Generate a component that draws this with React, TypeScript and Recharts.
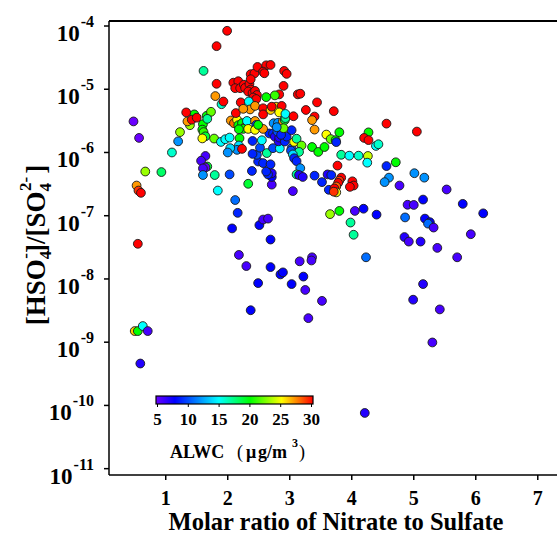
import { ScatterChart, Scatter, XAxis, YAxis, ReferenceLine } from "recharts";

// [molar ratio NO3/SO4, [HSO4-]/[SO4 2-], ALWC (µg/m3)]
type Pt = [number, number, number];

const LOW_RATIO: Pt[] = [
  [0.48, 3.1e-6, 5], [0.57, 1.7e-6, 5], [0.67, 5.0e-7, 23], [0.93, 4.9e-7, 18],
  [1.1, 1.0e-6, 16], [1.2, 1.5e-6, 12], [1.23, 2.1e-6, 23], [0.53, 3.0e-7, 27],
  [0.56, 2.5e-7, 29], [0.6, 2.3e-7, 30], [0.55, 3.6e-8, 30], [0.5, 1.5e-9, 26],
  [0.55, 1.5e-9, 20], [0.63, 1.8e-9, 15], [0.71, 1.5e-9, 6], [0.59, 4.6e-10, 7],
];

const LOW_TAIL: Pt[] = [
  [1.64, 8.8e-7, 6], [1.57, 7.4e-7, 6], [1.67, 6.0e-7, 19], [1.64, 5.8e-7, 5],
  [1.6, 5.6e-7, 6], [1.6, 4.4e-7, 12], [1.79, 4.4e-7, 17], [2.03, 4.5e-7, 10],
  [1.84, 2.5e-7, 15], [2.12, 1.77e-7, 11], [2.16, 1.11e-7, 9], [2.07, 6.3e-8, 8],
  [2.51, 7.1e-8, 8], [2.57, 8.7e-8, 6], [2.65, 9.0e-8, 6], [2.69, 4.2e-8, 8],
  [2.18, 2.4e-8, 6], [2.3, 1.6e-8, 6], [2.69, 1.54e-8, 8], [2.85, 1.18e-8, 8],
  [2.89, 1.27e-8, 8], [2.49, 8.6e-9, 8], [3.03, 8.3e-9, 8], [3.22, 1.09e-8, 8],
  [3.16, 1.9e-8, 6], [3.36, 2.2e-8, 6], [3.35, 1.96e-8, 6], [3.25, 6.7e-9, 6],
  [2.37, 3.2e-9, 8], [3.3, 2.4e-9, 6], [3.52, 4.5e-9, 6],
];

const CENTRAL: Pt[] = [
  [2.33, 3.2e-7, 19], [3.05, 2.45e-7, 6], [2.71, 3.1e-7, 6], [2.71, 4.1e-7, 8],
  [2.71, 4.7e-7, 7], [2.65, 4.5e-7, 9], [2.62, 5.0e-7, 9], [2.39, 5.1e-7, 9],
  [2.49, 7.2e-7, 9], [2.47, 9.2e-7, 10], [2.4, 9.5e-7, 9], [2.57, 6.8e-7, 9],
  [2.69, 6.5e-7, 9], [2.63, 9.8e-7, 17], [2.52, 1.19e-6, 10], [2.4, 1.52e-6, 9],
  [2.55, 1.56e-6, 15], [2.67, 2.0e-6, 9], [2.73, 2.0e-6, 9], [2.76, 1.78e-6, 7],
  [2.73, 1.17e-6, 10], [2.84, 1.16e-6, 15], [2.82, 1.5e-6, 7], [2.83, 1.72e-6, 7],
  [2.92, 1.49e-6, 9], [2.95, 1.78e-6, 9], [3.03, 2.25e-6, 9], [3.03, 1.17e-6, 10],
  [3.02, 1.07e-6, 10], [3.07, 1.47e-6, 25], [3.11, 1.65e-6, 17], [3.19, 1.29e-6, 22],
  [3.15, 1.02e-6, 17], [3.05, 9.3e-7, 14], [3.07, 8.1e-7, 9], [3.11, 7.3e-7, 9],
  [3.17, 5.65e-7, 12], [3.11, 4.5e-7, 17], [3.15, 4.4e-7, 7], [3.21, 4.1e-7, 7],
  [2.8, 2.14e-6, 10], [2.86, 1.9e-6, 9], [3.4, 4.3e-7, 9], [3.52, 3.4e-7, 9],
  [3.61, 4.5e-7, 7], [3.67, 4.4e-7, 9], [3.63, 2.57e-7, 9],
];

const MID_BAND: Pt[] = [
  [1.46, 4.0e-6, 20], [1.39, 2.7e-6, 23], [1.6, 2.8e-6, 20], [1.59, 2.3e-6, 20],
  [1.61, 2.1e-6, 21], [1.64, 1.8e-6, 19], [1.66, 3.8e-6, 20], [1.73, 4.4e-6, 22],
  [1.67, 3.4e-6, 17], [1.59, 1.67e-6, 25], [1.78, 1.66e-6, 22], [1.89, 1.47e-6, 15],
  [1.96, 1.62e-6, 15], [2.03, 1.72e-6, 15], [1.61, 1.95e-5, 17], [1.9, 5.8e-6, 16],
  [2.05, 3.2e-6, 27], [2.1, 2.9e-6, 28], [2.15, 3.3e-6, 25], [2.17, 2.7e-6, 20],
  [2.23, 2.9e-6, 20], [2.28, 2.56e-6, 23], [2.25, 2.36e-6, 20], [2.31, 3.15e-6, 15],
  [2.33, 2.36e-6, 25], [2.44, 3.15e-6, 27], [2.46, 2.73e-6, 10], [2.44, 2.28e-6, 25],
  [2.57, 2.36e-6, 27], [2.49, 2.73e-6, 20], [2.18, 2.33e-6, 20], [2.19, 1.68e-6, 20],
  [2.18, 1.29e-6, 14], [2.15, 1.1e-6, 12], [2.04, 1.17e-6, 14], [2.0, 1.0e-6, 12],
  [2.23, 1.14e-6, 30], [2.78, 2.8e-6, 27], [2.74, 2.9e-6, 12], [2.81, 2.95e-6, 12],
  [2.89, 3.1e-6, 27], [2.92, 3.25e-6, 19], [2.93, 3.5e-6, 17], [2.9, 2.42e-6, 22],
  [2.79, 2.51e-6, 12],
];

const HIGH_CLUSTER: Pt[] = [
  [1.33, 4.3e-6, 30], [1.35, 3.1e-6, 27], [1.42, 3.3e-6, 30], [1.5, 3.55e-6, 30],
  [1.82, 4.8e-5, 30], [1.99, 8.4e-5, 30], [1.82, 1.22e-5, 30], [1.8, 7.8e-6, 27],
  [1.93, 6.4e-6, 30], [2.13, 4.2e-6, 30],
  [2.09, 1.27e-5, 30], [2.17, 1.34e-5, 30], [2.12, 1.04e-5, 30], [2.2, 1.04e-5, 30],
  [2.26, 1.18e-5, 30], [2.28, 1.05e-5, 30], [2.35, 1.21e-5, 30], [2.37, 9.9e-6, 30],
  [2.33, 9.2e-6, 30], [2.4, 8.7e-6, 30], [2.44, 9.4e-6, 30], [2.47, 8.1e-6, 30],
  [2.41, 7.4e-6, 30], [2.46, 7.0e-6, 30], [2.37, 1.73e-5, 30], [2.43, 1.78e-5, 30],
  [2.37, 1.44e-5, 30], [2.48, 2.25e-5, 30], [2.62, 2.39e-5, 30], [2.69, 2.42e-5, 30],
  [2.57, 1.9e-5, 30], [2.59, 1.79e-5, 30], [2.91, 1.95e-5, 30], [2.95, 1.75e-5, 30],
  [2.9, 1.13e-5, 30], [2.83, 8.3e-6, 30], [2.76, 8.0e-6, 21], [2.62, 7.5e-6, 20],
  [3.13, 8.3e-6, 30], [3.17, 8.5e-6, 30], [3.44, 6.2e-6, 30], [2.21, 6.2e-6, 30],
  [2.34, 6.4e-6, 15], [2.36, 4.8e-6, 27], [2.44, 5.45e-6, 27], [2.57, 5.0e-6, 30],
  [2.25, 4.9e-6, 27], [2.69, 4.7e-6, 26], [2.78, 5.3e-6, 26], [2.87, 5.45e-6, 30],
  [2.71, 5.3e-6, 30], [2.83, 4.3e-6, 25], [2.93, 4.07e-6, 15], [3.26, 4.7e-6, 30],
  [3.71, 4.5e-6, 30], [3.06, 3.74e-6, 30], [3.4, 3.7e-6, 30], [3.36, 3.25e-6, 27],
  [3.4, 2.3e-6, 27], [2.57, 4.0e-6, 30], [4.56, 2.86e-6, 30], [5.05, 2.14e-6, 30],
];

const HIGH_RATIO: Pt[] = [
  [3.59, 1.92e-6, 25], [3.66, 1.63e-6, 22], [3.74, 1.57e-6, 20], [3.8, 2.09e-6, 20],
  [3.75, 1.46e-6, 9], [3.36, 1.22e-6, 20], [3.46, 1.02e-6, 20], [3.56, 1.22e-6, 20],
  [3.83, 9.2e-7, 17], [3.96, 8.9e-7, 15], [4.11, 8.9e-7, 16], [4.27, 2.08e-6, 20],
  [4.2, 1.7e-6, 30], [4.27, 1.57e-6, 30], [4.39, 1.27e-6, 15], [4.43, 1.35e-6, 16],
  [4.26, 8.8e-7, 24], [4.25, 6.9e-7, 15], [4.71, 7.0e-7, 20], [4.56, 6.1e-7, 9],
  [5.01, 4.7e-7, 12], [5.17, 4.0e-7, 12], [4.6, 4.0e-7, 12], [4.53, 3.4e-7, 12],
  [4.77, 3.0e-7, 6], [5.53, 2.6e-7, 6], [4.9, 1.49e-7, 6], [5.0, 1.48e-7, 6],
  [5.15, 1.8e-7, 8], [5.79, 1.54e-7, 8], [6.12, 1.09e-7, 8], [3.65, 1.06e-7, 23],
  [3.8, 1.19e-7, 20], [4.05, 1.19e-7, 6], [4.19, 1.29e-7, 8], [4.4, 1.04e-7, 8],
  [4.86, 9.4e-8, 11], [3.98, 7.8e-8, 17], [4.03, 5.0e-8, 17], [5.18, 9.0e-8, 8],
  [5.26, 7.9e-8, 8], [5.23, 7.5e-8, 11], [5.32, 6.5e-8, 6], [5.92, 5.1e-8, 6],
  [4.85, 4.6e-8, 7], [4.92, 3.9e-8, 6], [5.11, 3.9e-8, 7], [5.38, 3.1e-8, 6],
  [5.7, 2.2e-8, 6], [4.23, 2.2e-8, 11], [5.15, 8.3e-9, 7], [4.99, 4.7e-9, 7],
  [5.42, 3.3e-9, 6], [5.3, 9.9e-10, 6], [4.21, 7.6e-11, 7],
  [3.77, 6.2e-7, 30], [3.83, 4.0e-7, 30], [3.8, 3.6e-7, 29], [3.78, 3.3e-7, 30],
  [3.75, 2.9e-7, 28], [3.72, 2.7e-7, 30], [3.75, 2.34e-7, 25], [3.71, 2.4e-7, 29],
  [4.01, 3.5e-7, 30], [4.03, 3.0e-7, 30], [3.97, 2.86e-7, 30],
];

const X_TICKS = [1, 2, 3, 4, 5, 6, 7];
const Y_TICKS = [1e-11, 1e-10, 1e-9, 1e-8, 1e-7, 1e-6, 1e-5, 1e-4];
const ALWC_TICKS = [5, 10, 15, 20, 25, 30];

const X_MIN = 0.085;
const X_MAX = 7.31;
const Y_MIN = 7.94e-12;
const Y_MAX = 1.2e-4;

const FONT = '"Liberation Serif", "Times New Roman", serif';

// rainbow colour scale, purple (5) -> red (30)
const HUE_STOPS: [number, number][] = [
  [5, 265],
  [8, 240],
  [15, 180],
  [30, 0],
];

function hueFor(v: number) {
  if (v <= HUE_STOPS[0][0]) return HUE_STOPS[0][1];
  for (let i = 1; i < HUE_STOPS.length; i++) {
    const [v1, h1] = HUE_STOPS[i];
    const [v0, h0] = HUE_STOPS[i - 1];
    if (v <= v1) return h0 + ((v - v0) / (v1 - v0)) * (h1 - h0);
  }
  return 0;
}

const alwcColor = (v: number) => `hsl(${hueFor(v)}, 100%, 50%)`;

const data = [...LOW_RATIO, ...LOW_TAIL, ...CENTRAL, ...MID_BAND, ...HIGH_CLUSTER, ...HIGH_RATIO].map(
  ([ratio, hso4, alwc]) => ({ ratio, hso4, alwc })
);

// eslint-disable-next-line @typescript-eslint/no-explicit-any
function Dot(props: any) {
  const { cx, cy, payload } = props;
  return <circle cx={cx} cy={cy} r={4.4} fill={alwcColor(payload.alwc)} stroke="#1a1a1a" strokeWidth={0.9} />;
}

// eslint-disable-next-line @typescript-eslint/no-explicit-any
function YTick({ y, payload }: any) {
  const exp = Math.round(Math.log10(payload.value));
  return (
    <text x={94} y={y + 15} textAnchor="end" fontFamily={FONT} fontWeight="bold" fill="#000">
      <tspan fontSize={23}>10</tspan>
      <tspan fontSize={16} dx={1} dy={-14}>{exp}</tspan>
    </text>
  );
}

// eslint-disable-next-line @typescript-eslint/no-explicit-any
function XTick({ x, payload }: any) {
  return (
    <text x={x} y={505} textAnchor="middle" fontFamily={FONT} fontWeight="bold" fontSize={20} fill="#000">
      {payload.value}
    </text>
  );
}

const BAR_X0 = 156;
const BAR_X1 = 313;
const tickX = (v: number) => 157.5 + ((v - 5) / 25) * 154;

export default function App() {
  return (
    <div style={{ position: "absolute", left: 0, top: 0, width: 557, height: 535, background: "#fff" }}>
      <ScatterChart width={557} height={535} margin={{ top: 21, right: 0, bottom: 20, left: 49 }}>
        <XAxis
          type="number"
          dataKey="ratio"
          domain={[X_MIN, X_MAX]}
          ticks={X_TICKS}
          allowDataOverflow
          height={40}
          tick={<XTick />}
          tickSize={5}
          axisLine={{ stroke: "#000", strokeWidth: 1.5 }}
          tickLine={{ stroke: "#000", strokeWidth: 1.5 }}
        />
        <YAxis
          type="number"
          dataKey="hso4"
          scale="log"
          domain={[Y_MIN, Y_MAX]}
          ticks={Y_TICKS}
          allowDataOverflow
          width={60}
          tick={<YTick />}
          tickSize={5}
          axisLine={{ stroke: "#000", strokeWidth: 1.5 }}
          tickLine={{ stroke: "#000", strokeWidth: 1.5 }}
        />
        <ReferenceLine y={Y_MAX} stroke="#000" strokeWidth={2} />
        <Scatter data={data} shape={<Dot />} isAnimationActive={false} />
      </ScatterChart>

      <svg
        width={557}
        height={535}
        style={{ position: "absolute", left: 0, top: 0, pointerEvents: "none" }}
        fontFamily={FONT}
      >
        <defs>
          <linearGradient id="alwcBar" x1="0" x2="1" y1="0" y2="0">
            {[5, 6.5, 8, 10, 12, 15, 17.5, 20, 22.5, 25, 27.5, 30].map((v) => (
              <stop key={v} offset={(v - 5) / 25} stopColor={alwcColor(v)} />
            ))}
          </linearGradient>
        </defs>
        <rect x={BAR_X0} y={396} width={BAR_X1 - BAR_X0} height={8} fill="url(#alwcBar)" stroke="#000" strokeWidth={1.2} />
        {ALWC_TICKS.map((v) => (
          <g key={v}>
            <line x1={tickX(v)} x2={tickX(v)} y1={404} y2={407} stroke="#000" strokeWidth={1} />
            <text x={tickX(v)} y={425} textAnchor="middle" fontSize={17} fontWeight="bold" fill="#000">
              {v}
            </text>
          </g>
        ))}
        <text y={458} fontSize={18} fontWeight="bold" fill="#000">
          <tspan x={170}>ALWC</tspan>
          <tspan x={237} fontWeight="normal">(</tspan>
          <tspan x={246}>μ</tspan>
          <tspan x={258}>g/m</tspan>
          <tspan x={292} dy={-11} fontSize={12}>3</tspan>
          <tspan x={299} dy={11} fontWeight="normal">)</tspan>
        </text>

        <text x={336} y={530} textAnchor="middle" fontSize={24.5} fontWeight="bold" fill="#000">
          Molar ratio of Nitrate to Sulfate
        </text>

        <text transform="translate(45,245) rotate(-90)" textAnchor="middle" fontSize={27} fontWeight="bold" fill="#000">
          <tspan>[HSO</tspan>
          <tspan fontSize={17} dy={6}>4</tspan>
          <tspan fontSize={17} dx={-8} dy={-20}>-</tspan>
          <tspan dy={14}>]/[SO</tspan>
          <tspan fontSize={17} dy={6}>4</tspan>
          <tspan fontSize={17} dx={-8} dy={-20}>2-</tspan>
          <tspan dx={3} dy={14}>]</tspan>
        </text>
      </svg>
    </div>
  );
}
